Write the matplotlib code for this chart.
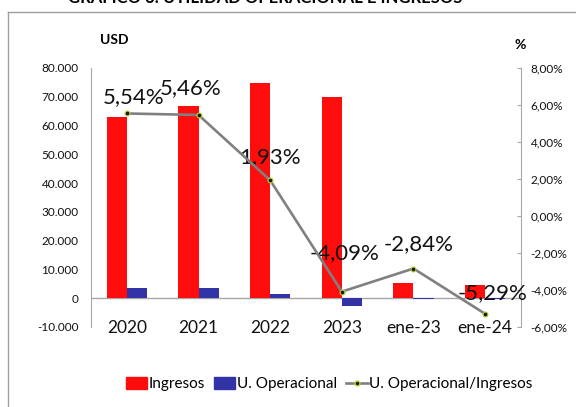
import matplotlib
matplotlib.use("Agg")
import matplotlib.pyplot as plt
from matplotlib.patches import Patch
from matplotlib.lines import Line2D
from matplotlib.ticker import FuncFormatter
import numpy as np

FONT = ['Lato', 'DejaVu Sans']
plt.rcParams['font.family'] = FONT

categories = ['2020', '2021', '2022', '2023', 'ene-23', 'ene-24']
ingresos = [63000, 66900, 74800, 70000, 5350, 4500]
u_operacional = [3490, 3650, 1440, -2860, -150, -240]
margen = [5.54, 5.46, 1.93, -4.09, -2.84, -5.29]
margen_labels = ['5,54%', '5,46%', '1,93%', '-4,09%', '-2,84%', '-5,29%']
left_ticks = [-10000, 0, 10000, 20000, 30000, 40000, 50000, 60000, 70000, 80000]
right_ticks = [-6, -4, -2, 0, 2, 4, 6, 8]

# label offsets in pixels (dx, dy) relative to the point
label_offsets = [(7, 16), (-8, 27), (0, 23), (3, 39), (5, 24), (7, 21)]

fig = plt.figure(figsize=(5.76, 4.07), dpi=100)
ax = fig.add_axes([0.158, 0.1966, 0.7465, 0.6364])
ax2 = ax.twinx()

x = np.arange(len(categories))
w = 0.28
ax.bar(x - w / 2, ingresos, width=w, color='#FF0D0D', zorder=2)
ax.bar(x + w / 2, u_operacional, width=w, color='#3333A8', zorder=2)
ax.set_xlim(-0.5, len(categories) - 0.5)
ax.set_ylim(-10000, 80000)
ax.set_yticks(left_ticks)
ax.yaxis.set_major_formatter(FuncFormatter(lambda v, p: f"{int(v):,}".replace(',', '.')))
ax.axhline(0, color='#A6A6A6', lw=1.0, zorder=1)
ax.set_xticks(x)
ax.set_xticklabels(categories, fontsize=12.5, color='#111111')
ax.tick_params(axis='x', length=0, pad=-5)
ax.tick_params(axis='y', length=0, labelsize=8.5, colors='#111111', pad=9)
for s in ['top', 'bottom', 'right']:
    ax.spines[s].set_visible(False)
ax.spines['left'].set_color('#A6A6A6')

ax2.plot(x, margen, color='#808080', lw=1.9, marker='o', markersize=3.5,
         mfc='#1a1a1a', mec='#B5D334', mew=0.8, zorder=5)
ax2.set_ylim(-6, 8)
ax2.set_yticks(right_ticks)
ax2.yaxis.set_major_formatter(FuncFormatter(lambda v, p: f"{v:.2f}".replace('.', ',') + '%'))
ax2.tick_params(axis='y', direction='in', length=3, color='#A6A6A6', labelsize=8.5,
                labelcolor='#111111', pad=7)
for s in ['top', 'bottom', 'left']:
    ax2.spines[s].set_visible(False)
ax2.spines['right'].set_color('#A6A6A6')

for xi, yi, lab, (dx, dy) in zip(x, margen, margen_labels, label_offsets):
    ax2.annotate(lab, (xi, yi), xytext=(dx * 0.72, dy * 0.72), textcoords='offset points',
                 ha='center', va='center', fontsize=16, color='#111111', zorder=4)

fig.text(100 / 576, 1 - 40 / 407, 'USD', fontsize=10, fontweight='bold', ha='left', va='center')
fig.text(520 / 576, 1 - 45 / 407, '%', fontsize=10, fontweight='bold', ha='center', va='center')
fig.text(265 / 576, 1 - 3 / 407, 'GRÁFICO 6: UTILIDAD OPERACIONAL E INGRESOS', fontsize=12,
         fontweight='bold', ha='center', va='baseline')

fig.add_artist(Line2D([8 / 576, 1], [1 - 12 / 407, 1 - 12 / 407], transform=fig.transFigure,
                      color='#A0A0A0', lw=1))
fig.add_artist(Line2D([8 / 576, 8 / 576], [1 - 12 / 407, 0], transform=fig.transFigure,
                      color='#A0A0A0', lw=1))

handles = [Patch(color='#FF0D0D'), Patch(color='#3333A8'),
           Line2D([], [], color='#808080', lw=1.9, marker='o', markersize=3.5,
                  mfc='#1a1a1a', mec='#B5D334')]
fig.legend(handles, ['Ingresos', 'U. Operacional', 'U. Operacional/Ingresos'],
           loc='center', bbox_to_anchor=(329 / 576, 1 - 384 / 407), ncol=3, frameon=False,
           fontsize=11, handlelength=1.4, handleheight=0.8, handletextpad=0.1,
           columnspacing=0.6)

fig.savefig('out.png', dpi=100)
